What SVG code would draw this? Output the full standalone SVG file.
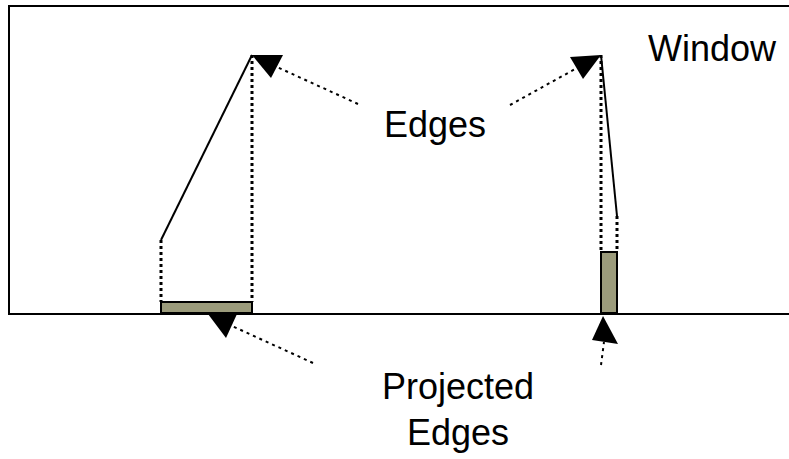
<svg xmlns="http://www.w3.org/2000/svg" width="789" height="459" viewBox="0 0 789 459">
<style>
.lbl{font-family:"Liberation Sans",Arial,sans-serif;font-size:36px;fill:#000}
.solid{stroke:#000;stroke-width:2;fill:none}
.dot{stroke:#000;stroke-width:3;stroke-dasharray:3 3;fill:none}
.proj{fill:#9b9b7b;stroke:#000;stroke-width:2}
.ptr{stroke:#000;stroke-width:2;stroke-dasharray:3 4;fill:none}
.head{fill:#000}
</style>
<rect width="789" height="459" fill="#fff"/>
<g id="window">
<polyline class="solid" points="792,6 9,6 9,314 792,314"/>
<text class="lbl" x="648" y="61">Window</text>
</g>
<g id="edge-left">
<line class="solid" x1="161" y1="240" x2="252" y2="55"/>
<line class="dot" x1="161" y1="240" x2="161" y2="302"/>
<line class="dot" x1="252" y1="55" x2="252" y2="302"/>
<rect class="proj" x="161" y="302" width="91" height="11"/>
</g>
<g id="edge-right">
<line class="solid" x1="601" y1="55" x2="617" y2="216"/>
<line class="dot" x1="601" y1="55" x2="601" y2="252"/>
<line class="dot" x1="617" y1="216" x2="617" y2="252"/>
<rect class="proj" x="601" y="252" width="16" height="61"/>
</g>
<g id="label-edges">
<text class="lbl" x="435" y="137" text-anchor="middle">Edges</text>
</g>
<g id="label-projected">
<text class="lbl" x="458" y="399" text-anchor="middle">Projected</text>
<text class="lbl" x="458" y="445" text-anchor="middle">Edges</text>
</g>
<g id="connectors">
<line class="ptr" x1="358" y1="104" x2="277" y2="67"/>
<polygon class="head" points="252,55 283,55 271,78"/>
<line class="ptr" x1="510" y1="105" x2="577" y2="68"/>
<polygon class="head" points="601,55 570,57 583,79"/>
<line class="ptr" x1="313" y1="363" x2="232" y2="326"/>
<polygon class="head" points="208,314 237,314 226,338"/>
<line class="ptr" x1="601" y1="365" x2="604" y2="342"/>
<polygon class="head" points="603,316 592,340 618,344"/>
</g>
</svg>
